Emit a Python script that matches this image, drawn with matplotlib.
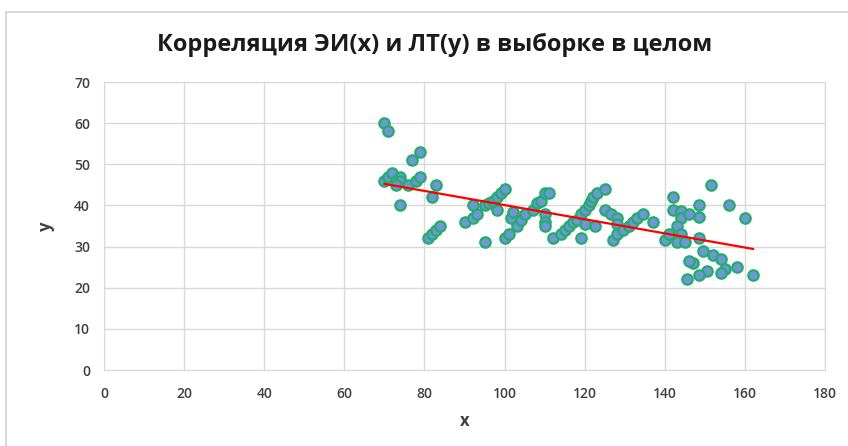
import numpy as np
import matplotlib.pyplot as plt
from matplotlib.patches import Rectangle

plt.rcParams["font.family"] = ["Open Sans", "DejaVu Sans"]

# ЭИ (x) и ЛТ (y) по всей выборке
x = [70, 71, 79, 77, 70, 71, 72, 73, 74, 74, 73, 76, 78, 79, 83, 82, 74,
     81, 82, 83, 84, 90, 92, 93, 92, 95, 96, 98, 97, 98, 99, 100, 95,
     100, 101, 101.5, 102, 103, 104, 105, 107, 108, 109, 110, 111, 110,
     110, 110, 112, 114, 115, 116, 117, 118, 119, 120, 121, 121.5, 122,
     123, 125, 119, 120, 122.6, 125, 126.5, 128, 128, 127, 128, 129.5,
     131, 132, 133, 134.5, 137, 140, 141, 142, 142, 144, 144, 143, 144,
     143, 145, 146, 148.5, 148.5, 151.5, 156, 160, 148.5, 149.5, 152, 154,
     147, 146, 150.5, 148.5, 145.5, 155, 154, 158, 162]
y = [60, 58, 53, 51, 46, 47, 48, 46, 47, 46, 45, 45, 46, 47, 45, 42, 40,
     32, 33, 34, 35, 36, 37, 38, 40, 40, 40.5, 39, 41, 42, 43, 44, 31,
     32, 33, 37, 38.5, 35, 36.5, 38, 39, 40.5, 41, 43, 43, 38,
     36, 35, 32, 33, 34, 35, 36, 36.5, 38, 39, 40, 41, 42,
     43, 44, 32, 35.5, 35, 39, 38, 37, 35.5, 31.6, 33, 34,
     35, 36, 37, 38, 36, 31.6, 33, 42, 39, 38.7, 37, 35, 33,
     31, 31, 38, 40, 37.3, 45, 40, 37, 32, 29, 28, 27,
     26, 26.4, 24, 23, 22, 24.5, 23.6, 25, 23]

x_ticks = np.arange(0, 181, 20)
y_ticks = np.arange(0, 71, 10)

grid_col = "#d9d9d9"
text_col = "#404040"

fig = plt.figure(figsize=(8.48, 4.46), dpi=100)
ax = fig.add_axes([0.1226, 0.1704, 0.8504, 0.6457])

# рамка области диаграммы
fig.patches.append(Rectangle((6 / 848, -0.1), 1.2, 1 - 12 / 446 + 0.1,
                             transform=fig.transFigure, fill=False,
                             edgecolor=grid_col, linewidth=1.5))

ax.scatter(x, y, s=56, c="#7096d8", edgecolors="#22ad6c", linewidths=1.6,
           zorder=3)

# линейный тренд
k, b = np.polyfit(x, y, 1)
xt = np.array([min(x), max(x)])
ax.plot(xt, k * xt + b, color="#ff0000", linewidth=1.6, zorder=4)

ax.set_xlim(0, 180)
ax.set_ylim(0, 70)
ax.set_xticks(x_ticks)
ax.set_yticks(y_ticks)
ax.grid(True, color=grid_col, linewidth=1)
ax.set_axisbelow(True)
for s in ax.spines.values():
    s.set_color(grid_col)
ax.tick_params(length=0, labelsize=10, labelcolor=text_col)
ax.tick_params(axis="x", pad=12)
ax.tick_params(axis="y", pad=10)
for lbl in ax.get_xticklabels() + ax.get_yticklabels():
    lbl.set_fontweight("semibold")

ax.set_xlabel("x", fontsize=12, fontweight="bold", color=text_col, labelpad=8)
ax.set_ylabel("y", fontsize=12, fontweight="bold", color=text_col, labelpad=14)
fig.text(435 / 848, 1 - 45 / 446, "Корреляция ЭИ(x) и ЛТ(y) в выборке в целом",
         fontsize=17, fontweight="bold", color="#1a1a1a",
         ha="center", va="center")

fig.savefig("out.png", dpi=100)
